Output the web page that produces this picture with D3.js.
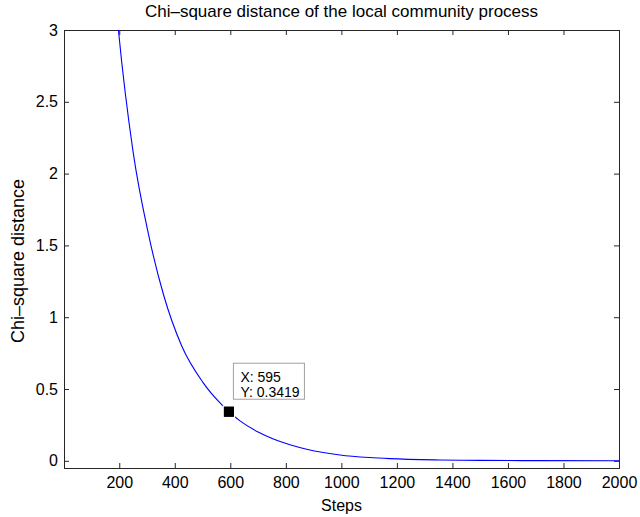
<!DOCTYPE html>
<html>
<head>
<meta charset="utf-8">
<script src="https://cdn.jsdelivr.net/npm/d3@7"></script>
<style>
  html, body { margin: 0; padding: 0; background: #fff; }
  svg { display: block; font-family: "Liberation Sans", Arial, Helvetica, sans-serif; }
</style>
</head>
<body>
<svg id="chart" width="640" height="517"></svg>
<script>
// ---- data ----
const steps    = [150, 197, 250, 305, 359, 425, 500, 557, 595, 635, 700, 755, 815, 875, 935, 995, 1100, 1175, 1355, 1500, 1700, 2000];
const distance = [4.1, 3.0, 2.15, 1.58, 1.16, 0.80, 0.55, 0.415, 0.3419, 0.278, 0.2, 0.152, 0.112, 0.081, 0.058, 0.041, 0.023, 0.015, 0.006, 0.003, 0.0013, 0.0004];
const xTicks = [200, 400, 600, 800, 1000, 1200, 1400, 1600, 1800, 2000];
const yTicks = [0, 0.5, 1, 1.5, 2, 2.5, 3];
const yTickLabels = ["0", "0.5", "1", "1.5", "2", "2.5", "3"];
const tipX = 595, tipY = 0.3419;
const xDomain = [1, 2000];
const yDomain = [-0.05, 3];
const titleText = "Chi\u2013square distance of the local community process";
const xLabelText = "Steps";
const yLabelText = "Chi\u2013square distance";

// ---- layout ----
const L = 64, R = 619, T = 30, B = 468;
const svg = d3.select("#chart");
const x = d3.scaleLinear().domain(xDomain).range([L, R]);
const y = d3.scaleLinear().domain(yDomain).range([B, T]);
const axisColor = "#262626";
const tickLen = 5;

svg.append("defs").append("clipPath").attr("id", "plotclip")
  .append("rect").attr("x", L).attr("y", T).attr("width", R - L).attr("height", B - T);

svg.append("rect").attr("x", L).attr("y", T).attr("width", R - L).attr("height", B - T).attr("fill", "#fff");

// axes (ticks inward, box on)
const fontSize = 16;
const gx = svg.append("g").attr("transform", `translate(0,${B})`)
  .call(d3.axisBottom(x).tickValues(xTicks).tickSize(-tickLen).tickPadding(9).tickFormat(d3.format("d")));
const gxt = svg.append("g").attr("transform", `translate(0,${T})`)
  .call(d3.axisTop(x).tickValues(xTicks).tickSize(-tickLen).tickFormat(""));
const gy = svg.append("g").attr("transform", `translate(${L},0)`)
  .call(d3.axisLeft(y).tickValues(yTicks).tickSize(-tickLen).tickPadding(6).tickFormat((d, i) => yTickLabels[i]));
const gyr = svg.append("g").attr("transform", `translate(${R},0)`)
  .call(d3.axisRight(y).tickValues(yTicks).tickSize(-tickLen).tickFormat(""));

[gx, gxt, gy, gyr].forEach(g => {
  g.select(".domain").attr("stroke", axisColor).attr("stroke-width", 1);
  g.selectAll(".tick line").attr("stroke", axisColor);
  g.selectAll(".tick text").attr("fill", "#000").style("font-size", fontSize + "px")
    .style("font-family", "'Liberation Sans', Arial, sans-serif");
});

// curve
const data = steps.map((s, i) => ({ s, v: distance[i] }));
const line = d3.line().x(d => x(d.s)).y(d => y(d.v)).curve(d3.curveMonotoneX);
svg.append("path").datum(data)
  .attr("clip-path", "url(#plotclip)")
  .attr("d", line)
  .attr("fill", "none")
  .attr("stroke", "#0000ff")
  .attr("stroke-width", 1.1);

// data tip
const mx = x(tipX), my = y(tipY);
svg.append("rect").attr("x", mx - 5).attr("y", my - 5).attr("width", 10).attr("height", 10)
  .attr("fill", "#000").attr("stroke", "#fff").attr("stroke-width", 2.5).attr("paint-order", "stroke");
svg.append("rect").attr("x", mx - 5).attr("y", my - 5).attr("width", 10).attr("height", 10)
  .attr("fill", "#000");
const bx = mx + 4.5, by = my - 48.5;
svg.append("rect").attr("x", bx).attr("y", by).attr("width", 71).attr("height", 36)
  .attr("fill", "#fff").attr("stroke", "#a0a0a0").attr("stroke-width", 1);
const tipText = svg.append("text").attr("font-size", 14).attr("fill", "#000");
tipText.append("tspan").attr("x", bx + 7).attr("y", by + 18.5).text("X: " + tipX);
tipText.append("tspan").attr("x", bx + 7).attr("y", by + 33.5).text("Y: " + tipY);

// title and labels
svg.append("text").attr("x", (L + R) / 2).attr("y", 17).attr("text-anchor", "middle")
  .attr("font-size", 17).attr("fill", "#000").text(titleText);
svg.append("text").attr("x", (L + R) / 2).attr("y", 511).attr("text-anchor", "middle")
  .attr("font-size", 16).attr("fill", "#000").text(xLabelText);
svg.append("text").attr("transform", `translate(24,${(T + B) / 2 + 12}) rotate(-90)`).attr("text-anchor", "middle")
  .attr("font-size", 18).attr("fill", "#000").text(yLabelText);
</script>
</body>
</html>
